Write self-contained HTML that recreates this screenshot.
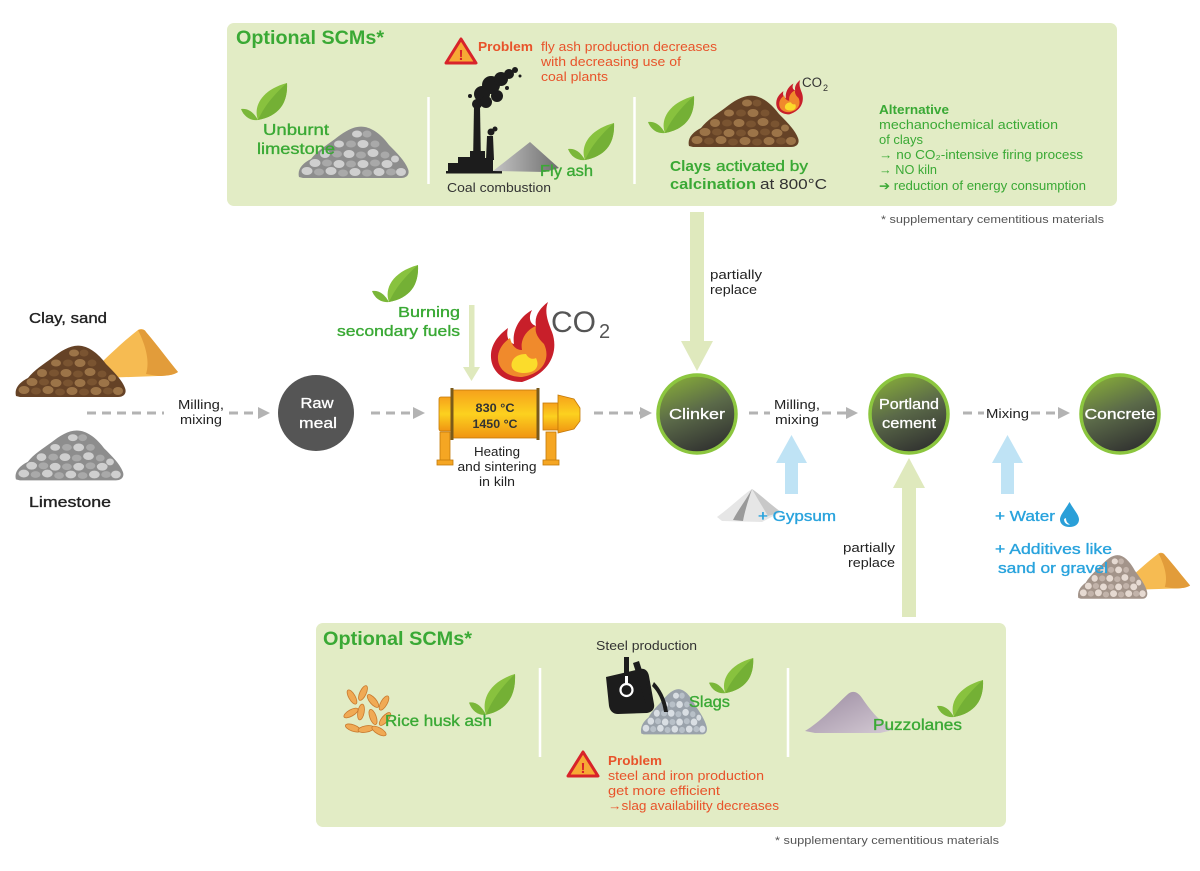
<!DOCTYPE html>
<html>
<head>
<meta charset="utf-8">
<style>
  html,body{margin:0;padding:0;background:#fff;}
  svg{display:block;}
  .g{fill:#3aa935;}
  .gs{fill:#3aa935;stroke:#3aa935;stroke-width:0.35;}
  .r{fill:#e8532a;}
  .b{fill:#29a3dd;stroke:#29a3dd;stroke-width:0.35;}
  .k{fill:#222;}
  .ks{fill:#222;stroke:#222;stroke-width:0.35;}
  .d{fill:#333;}
  .w{fill:#fff;stroke:#fff;stroke-width:0.3;}
  .fn{fill:#555;}
</style>
</head>
<body>
<svg width="1200" height="871" viewBox="0 0 1200 871" xmlns="http://www.w3.org/2000/svg" font-family="'Liberation Sans', Arial, sans-serif">
<defs>
  <linearGradient id="cg" x1="0.3" y1="0" x2="0.7" y2="1">
    <stop offset="0" stop-color="#84a83a"/>
    <stop offset="0.45" stop-color="#5b6a49"/>
    <stop offset="1" stop-color="#2f2f2f"/>
  </linearGradient>
  <linearGradient id="kg" x1="0" y1="0" x2="0" y2="1">
    <stop offset="0" stop-color="#f6a11b"/>
    <stop offset="0.5" stop-color="#fcd11f"/>
    <stop offset="1" stop-color="#f09412"/>
  </linearGradient>
  <linearGradient id="fa" x1="0" y1="0" x2="1" y2="0">
    <stop offset="0" stop-color="#c4c4c4"/>
    <stop offset="1" stop-color="#6e6e6e"/>
  </linearGradient>
  <linearGradient id="pz" x1="0" y1="0" x2="1" y2="1">
    <stop offset="0" stop-color="#9a8aa0"/>
    <stop offset="1" stop-color="#d4cad4"/>
  </linearGradient>
  <g id="leaf">
    <path d="M17,37 C12,24 20,7 46,0 C47,20 38,33 17,37 Z" fill="#88c23e"/>
    <path d="M17,37 C22,26 30,14 46,0 C47,20 38,33 17,37 Z" fill="#74b035"/>
    <path d="M17,37 C12,28 6,25 0,26 C3,34 10,38 17,37 Z" fill="#7ab739"/>
  </g>
  <g id="pile">
    <path d="M2,54 C0,46 6,40 14,36 C20,28 30,22 38,16 C48,8 58,2 68,4 C78,6 86,14 92,22 C100,30 108,38 111,46 C113,51 110,55 104,55 L6,55 Z" style="fill:var(--b,#888)"/>
    <g style="fill:var(--d,#ccc)">
      <ellipse cx="10" cy="48" rx="5.5" ry="4"/>
      <ellipse cx="34" cy="48" rx="5.5" ry="4"/>
      <ellipse cx="58" cy="49" rx="5.5" ry="4"/>
      <ellipse cx="82" cy="49" rx="5.5" ry="4"/>
      <ellipse cx="104" cy="49" rx="5" ry="4"/>
      <ellipse cx="18" cy="40" rx="5.5" ry="4"/>
      <ellipse cx="42" cy="41" rx="5.5" ry="4"/>
      <ellipse cx="66" cy="41" rx="5.5" ry="4"/>
      <ellipse cx="90" cy="41" rx="5.5" ry="4"/>
      <ellipse cx="28" cy="31" rx="5" ry="4"/>
      <ellipse cx="52" cy="31" rx="5.5" ry="4"/>
      <ellipse cx="76" cy="30" rx="5.5" ry="4"/>
      <ellipse cx="42" cy="21" rx="5" ry="3.5"/>
      <ellipse cx="66" cy="21" rx="5.5" ry="4"/>
      <ellipse cx="60" cy="11" rx="5" ry="3.5"/>
      <ellipse cx="98" cy="36" rx="4" ry="3.5"/>
    </g>
    <g style="fill:var(--k,#666)">
      <ellipse cx="22" cy="49" rx="5" ry="3.5"/>
      <ellipse cx="46" cy="50" rx="5" ry="3.5"/>
      <ellipse cx="70" cy="50" rx="5" ry="3.5"/>
      <ellipse cx="94" cy="49" rx="5" ry="3.5"/>
      <ellipse cx="30" cy="40" rx="5" ry="3.5"/>
      <ellipse cx="54" cy="41" rx="5" ry="3.5"/>
      <ellipse cx="78" cy="40" rx="5" ry="3.5"/>
      <ellipse cx="40" cy="31" rx="5" ry="3.5"/>
      <ellipse cx="64" cy="32" rx="5" ry="3.5"/>
      <ellipse cx="88" cy="32" rx="4.5" ry="3.5"/>
      <ellipse cx="54" cy="21" rx="5" ry="3.5"/>
      <ellipse cx="78" cy="21" rx="4.5" ry="3.5"/>
      <ellipse cx="70" cy="11" rx="4.5" ry="3.5"/>
    </g>
  </g>
  <g id="sand">
    <path d="M0,48 C12,36 32,16 50,2 C53,0 56,1 58,4 C70,18 80,32 90,44 C86,47 78,48 70,48 L12,50 Z" fill="#f6bb52"/>
    <path d="M50,2 C56,1 57,2 58,4 C70,18 80,32 90,44 C86,47 78,48 70,48 L58,46 C62,34 58,18 50,2 Z" fill="#e29c3a"/>
  </g>
  <g id="flame">
    <path d="M34,80 C14,80 2,68 3,52 C4,40 12,32 20,26 C18,34 20,40 26,42 C24,30 30,16 44,8 C40,16 42,22 48,24 C46,14 52,6 60,0 C56,10 60,20 64,30 C70,46 66,70 34,80 Z" fill="#c81f2a"/>
    <path d="M34,75 C18,75 9,66 10,54 C11,46 16,40 22,36 C24,44 28,48 34,48 C32,38 38,28 48,24 C46,32 52,38 56,42 C62,54 58,71 34,75 Z" fill="#f08a2c"/>
    <path d="M36,71 C26,71 22,66 24,60 C26,54 32,52 38,52 C40,56 44,58 48,56 C52,64 48,71 36,71 Z" fill="#fbdc2b"/>
  </g>
</defs>

<!-- ============ TOP BOX ============ -->
<rect x="227" y="23" width="890" height="183" rx="7" fill="#e2ecc5"/>
<text x="236" y="44" class="g" font-weight="bold" font-size="19" textLength="148" lengthAdjust="spacingAndGlyphs">Optional SCMs*</text>

<!-- warning -->
<path d="M461,39 L476,63 L446,63 Z" fill="#f7a935" stroke="#d8232a" stroke-width="3" stroke-linejoin="round"/>
<text x="461" y="60" text-anchor="middle" font-size="15" font-weight="bold" fill="#d8232a">!</text>
<text x="478" y="51" class="r" font-weight="bold" font-size="12.5" textLength="55" lengthAdjust="spacingAndGlyphs">Problem</text>
<text x="541" y="51" class="r" font-size="12.5" textLength="176" lengthAdjust="spacingAndGlyphs">fly ash production decreases</text>
<text x="541" y="66" class="r" font-size="12.5" textLength="140" lengthAdjust="spacingAndGlyphs">with decreasing use of</text>
<text x="541" y="81" class="r" font-size="12.5" textLength="67" lengthAdjust="spacingAndGlyphs">coal plants</text>

<!-- unburnt limestone -->
<use href="#leaf" transform="translate(241,83)"/>
<use href="#pile" transform="translate(297,123)" style="--b:#8d8d8d;--d:#cfcfcf;--k:#a9a9a9"/>
<text x="263" y="135" class="gs" font-size="15.5" textLength="66" lengthAdjust="spacingAndGlyphs">Unburnt</text>
<text x="257" y="154" class="gs" font-size="15.5" textLength="78" lengthAdjust="spacingAndGlyphs">limestone</text>

<line x1="428.5" y1="97" x2="428.5" y2="184" stroke="#fff" stroke-width="2.5"/>
<line x1="634.5" y1="97" x2="634.5" y2="184" stroke="#fff" stroke-width="2.5"/>

<!-- coal plant -->
<g fill="#1c1c1c">
  <circle cx="482" cy="94" r="8"/>
  <circle cx="491" cy="85" r="9"/>
  <circle cx="501" cy="79" r="7"/>
  <circle cx="509" cy="74" r="5"/>
  <circle cx="486" cy="102" r="6"/>
  <circle cx="497" cy="96" r="6"/>
  <circle cx="477" cy="104" r="5"/>
  <circle cx="515" cy="70" r="3"/>
  <circle cx="520" cy="76" r="1.5"/>
  <circle cx="507" cy="88" r="2"/>
  <circle cx="470" cy="96" r="2"/>
  <polygon points="474,106 480,106 481,164 473,164"/>
  <polygon points="487,136 493,136 494,160 486,160"/>
  <circle cx="491" cy="132" r="3.5"/>
  <circle cx="495" cy="129" r="2.5"/>
  <path d="M448,173 L448,163 L458,163 L458,157 L470,157 L470,151 L485,151 L485,158 L493,158 L493,173 Z"/>
  <rect x="446" y="171" width="56" height="2.5"/>
</g>
<path d="M493,171 L530,142 L559,168 L545,172 Z" fill="url(#fa)"/>
<use href="#leaf" transform="translate(568,123)"/>
<text x="540" y="176" class="gs" font-size="15.5" textLength="53" lengthAdjust="spacingAndGlyphs">Fly ash</text>
<text x="447" y="192" class="d" font-size="12.5" textLength="104" lengthAdjust="spacingAndGlyphs">Coal combustion</text>

<!-- clays -->
<use href="#leaf" transform="translate(648,96)"/>
<use href="#pile" transform="translate(687,92)" style="--b:#654226;--d:#9c7448;--k:#7a5431"/>
<use href="#flame" transform="translate(775,80) scale(0.42,0.43)"/>
<text x="802" y="87" class="d" font-size="13.5" textLength="20" lengthAdjust="spacingAndGlyphs">CO</text>
<text x="823" y="91" class="d" font-size="9">2</text>
<text x="670" y="171" class="g" font-weight="bold" font-size="15" textLength="41" lengthAdjust="spacingAndGlyphs">Clays</text>
<text x="716" y="171" class="gs" font-size="15" textLength="92" lengthAdjust="spacingAndGlyphs">activated by</text>
<text x="670" y="189" class="g" font-weight="bold" font-size="15" textLength="86" lengthAdjust="spacingAndGlyphs">calcination</text>
<text x="760" y="189" class="d" font-size="15" textLength="67" lengthAdjust="spacingAndGlyphs">at 800°C</text>

<!-- alternative -->
<text x="879" y="114" class="g" font-weight="bold" font-size="12.5" textLength="70" lengthAdjust="spacingAndGlyphs">Alternative</text>
<text x="879" y="129" class="g" font-size="12.5" textLength="179" lengthAdjust="spacingAndGlyphs">mechanochemical activation</text>
<text x="879" y="144" class="g" font-size="12.5" textLength="44" lengthAdjust="spacingAndGlyphs">of clays</text>
<text x="879" y="159" class="g" font-size="12.5" textLength="204" lengthAdjust="spacingAndGlyphs">→ no CO₂-intensive firing process</text>
<text x="879" y="174" class="g" font-size="12.5" textLength="58" lengthAdjust="spacingAndGlyphs">→ NO kiln</text>
<text x="879" y="190" class="g" font-size="12.5" textLength="207" lengthAdjust="spacingAndGlyphs">➔ reduction of energy consumption</text>

<text x="881" y="223" class="fn" font-size="11" textLength="223" lengthAdjust="spacingAndGlyphs">* supplementary cementitious materials</text>

<!-- ============ GREEN ARROWS ============ -->
<polygon points="690,212 704,212 704,341 713,341 697,371 681,341 690,341" fill="#dfe9bd"/>
<text x="710" y="279" class="k" font-size="12.5" textLength="52" lengthAdjust="spacingAndGlyphs">partially</text>
<text x="710" y="294" class="k" font-size="12.5" textLength="47" lengthAdjust="spacingAndGlyphs">replace</text>

<polygon points="902,617 916,617 916,488 925,488 909,458 893,488 902,488" fill="#dfe9bd"/>
<text x="895" y="552" text-anchor="end" class="k" font-size="12.5" textLength="52" lengthAdjust="spacingAndGlyphs">partially</text>
<text x="895" y="567" text-anchor="end" class="k" font-size="12.5" textLength="47" lengthAdjust="spacingAndGlyphs">replace</text>

<!-- ============ LEFT MATERIALS ============ -->
<text x="29" y="323" class="ks" font-size="15" textLength="78" lengthAdjust="spacingAndGlyphs">Clay, sand</text>
<use href="#sand" transform="translate(88,328)"/>
<use href="#pile" transform="translate(14,342)" style="--b:#654226;--d:#9c7448;--k:#7a5431"/>
<use href="#pile" transform="translate(14,427) scale(0.98,0.97)" style="--b:#8d8d8d;--d:#cfcfcf;--k:#a9a9a9"/>
<text x="29" y="507" class="ks" font-size="15" textLength="82" lengthAdjust="spacingAndGlyphs">Limestone</text>

<!-- ============ DASHED FLOW ============ -->
<g stroke="#b3b3b3" stroke-width="3" stroke-dasharray="9 6" fill="none">
  <line x1="87" y1="413" x2="164" y2="413"/>
  <line x1="229" y1="413" x2="259" y2="413"/>
  <line x1="371" y1="413" x2="414" y2="413"/>
  <line x1="594" y1="413" x2="641" y2="413"/>
  <line x1="749" y1="413" x2="770" y2="413"/>
  <line x1="822" y1="413" x2="847" y2="413"/>
  <line x1="963" y1="413" x2="984" y2="413"/>
  <line x1="1031" y1="413" x2="1059" y2="413"/>
</g>
<g fill="#b3b3b3">
  <polygon points="258,407 270,413 258,419"/>
  <polygon points="413,407 425,413 413,419"/>
  <polygon points="640,407 652,413 640,419"/>
  <polygon points="846,407 858,413 846,419"/>
  <polygon points="1058,407 1070,413 1058,419"/>
</g>
<text x="178" y="409" class="k" font-size="12.5" textLength="46" lengthAdjust="spacingAndGlyphs">Milling,</text>
<text x="180" y="424" class="k" font-size="12.5" textLength="42" lengthAdjust="spacingAndGlyphs">mixing</text>

<!-- raw meal -->
<circle cx="316" cy="413" r="38" fill="#555"/>
<text x="317" y="408" text-anchor="middle" class="w" font-size="14.5" textLength="33" lengthAdjust="spacingAndGlyphs">Raw</text>
<text x="318" y="428" text-anchor="middle" class="w" font-size="14.5" textLength="38" lengthAdjust="spacingAndGlyphs">meal</text>

<!-- burning secondary fuels -->
<use href="#leaf" transform="translate(372,265)"/>
<text x="460" y="317" text-anchor="end" class="gs" font-size="15" textLength="62" lengthAdjust="spacingAndGlyphs">Burning</text>
<text x="460" y="336" text-anchor="end" class="gs" font-size="15" textLength="123" lengthAdjust="spacingAndGlyphs">secondary fuels</text>
<rect x="469" y="305" width="5.5" height="63" fill="#dfe9bd"/>
<polygon points="463,367 480,367 471.5,381" fill="#dfe9bd"/>

<!-- flame + CO2 -->
<use href="#flame" transform="translate(488,302)"/>
<text x="551" y="332" font-size="30" fill="#555" textLength="45" lengthAdjust="spacingAndGlyphs">CO</text>
<text x="599" y="338" font-size="20" fill="#555">2</text>

<!-- kiln -->
<g>
  <rect x="440" y="432" width="10" height="30" fill="#f5a623" stroke="#c47a0a" stroke-width="0.8"/>
  <rect x="437" y="460" width="16" height="5" fill="#f5a623" stroke="#c47a0a" stroke-width="0.8"/>
  <rect x="546" y="432" width="10" height="30" fill="#f5a623" stroke="#c47a0a" stroke-width="0.8"/>
  <rect x="543" y="460" width="16" height="5" fill="#f5a623" stroke="#c47a0a" stroke-width="0.8"/>
  <rect x="439" y="397" width="13" height="34" rx="2" fill="url(#kg)" stroke="#c47a0a" stroke-width="0.8"/>
  <rect x="452" y="390" width="86" height="48" fill="url(#kg)" stroke="#c47a0a" stroke-width="0.8"/>
  <rect x="450.5" y="388" width="3" height="52" fill="#7a5a1a"/>
  <rect x="536.5" y="388" width="3" height="52" fill="#7a5a1a"/>
  <rect x="543" y="403" width="15" height="27" fill="url(#kg)" stroke="#c47a0a" stroke-width="0.8"/>
  <polygon points="558,395 574,399 580,408 580,421 574,429 558,433" fill="url(#kg)" stroke="#c47a0a" stroke-width="0.8"/>
</g>
<text x="495" y="412" text-anchor="middle" class="d" font-weight="bold" font-size="12" textLength="39" lengthAdjust="spacingAndGlyphs">830 °C</text>
<text x="495" y="428" text-anchor="middle" class="d" font-weight="bold" font-size="12" textLength="45" lengthAdjust="spacingAndGlyphs">1450 °C</text>
<text x="497" y="456" text-anchor="middle" class="k" font-size="12.5" textLength="46" lengthAdjust="spacingAndGlyphs">Heating</text>
<text x="497" y="471" text-anchor="middle" class="k" font-size="12.5" textLength="79" lengthAdjust="spacingAndGlyphs">and sintering</text>
<text x="497" y="486" text-anchor="middle" class="k" font-size="12.5" textLength="36" lengthAdjust="spacingAndGlyphs">in kiln</text>

<!-- circles -->
<circle cx="697" cy="414" r="39" fill="url(#cg)" stroke="#8cc63f" stroke-width="3.5"/>
<text x="697" y="419" text-anchor="middle" class="w" font-size="15" textLength="56" lengthAdjust="spacingAndGlyphs">Clinker</text>

<text x="774" y="409" class="k" font-size="12.5" textLength="46" lengthAdjust="spacingAndGlyphs">Milling,</text>
<text x="775" y="424" class="k" font-size="12.5" textLength="44" lengthAdjust="spacingAndGlyphs">mixing</text>

<circle cx="909" cy="414" r="39" fill="url(#cg)" stroke="#8cc63f" stroke-width="3.5"/>
<text x="909" y="409" text-anchor="middle" class="w" font-size="15" textLength="60" lengthAdjust="spacingAndGlyphs">Portland</text>
<text x="909" y="428" text-anchor="middle" class="w" font-size="15" textLength="54" lengthAdjust="spacingAndGlyphs">cement</text>

<text x="986" y="418" class="k" font-size="12.5" textLength="43" lengthAdjust="spacingAndGlyphs">Mixing</text>

<circle cx="1120" cy="414" r="39" fill="url(#cg)" stroke="#8cc63f" stroke-width="3.5"/>
<text x="1120" y="419" text-anchor="middle" class="w" font-size="15" textLength="71" lengthAdjust="spacingAndGlyphs">Concrete</text>

<!-- blue arrows -->
<polygon points="785,494 798,494 798,463 807,463 791.5,435 776,463 785,463" fill="#bfe3f5"/>
<polygon points="1001,494 1014,494 1014,463 1023,463 1007.5,435 992,463 1001,463" fill="#bfe3f5"/>

<!-- gypsum -->
<path d="M717,517 C732,506 744,494 752,489 C762,496 771,505 781,512 L762,522 L722,521 Z" fill="#e6e6e6"/>
<path d="M752,489 C746,500 738,510 733,520 L743,521 C745,510 749,498 752,489 Z" fill="#9a9a9a"/>
<path d="M752,489 C762,496 771,505 781,512 L768,516 C762,506 756,496 752,489 Z" fill="#c8c8c8"/>
<text x="758" y="521" class="b" font-size="15" textLength="78" lengthAdjust="spacingAndGlyphs">+ Gypsum</text>

<!-- water -->
<text x="995" y="521" class="b" font-size="15" textLength="60" lengthAdjust="spacingAndGlyphs">+ Water</text>
<path d="M1069.5,502 C1065,510 1060,515 1060,519.5 C1060,524 1064,527 1069.5,527 C1075,527 1079,524 1079,519.5 C1079,515 1074,510 1069.5,502 Z" fill="#2a9fd8"/>
<path d="M1064,519 C1064,523 1067,525 1070,524.5 C1067,523 1066,521 1066,518 Z" fill="#fff"/>
<use href="#sand" transform="translate(1119,552) scale(0.79,0.76)"/>
<use href="#pile" transform="translate(1077,552) scale(0.63,0.85)" style="--b:#a3948a;--d:#e6dad2;--k:#c2b3aa"/>
<text x="995" y="554" class="b" font-size="15" textLength="117" lengthAdjust="spacingAndGlyphs">+ Additives like</text>
<text x="998" y="573" class="b" font-size="15" textLength="110" lengthAdjust="spacingAndGlyphs">sand or gravel</text>

<!-- ============ BOTTOM BOX ============ -->
<rect x="316" y="623" width="690" height="204" rx="7" fill="#e2ecc5"/>
<text x="323" y="645" class="g" font-weight="bold" font-size="19" textLength="149" lengthAdjust="spacingAndGlyphs">Optional SCMs*</text>
<text x="596" y="650" class="d" font-size="12.5" textLength="101" lengthAdjust="spacingAndGlyphs">Steel production</text>

<line x1="540" y1="668" x2="540" y2="757" stroke="#fff" stroke-width="2.5"/>
<line x1="788" y1="668" x2="788" y2="757" stroke="#fff" stroke-width="2.5"/>

<!-- rice -->
<g fill="#f0aa55" stroke="#c9792d" stroke-width="0.8">
  <ellipse cx="352" cy="697" rx="3.2" ry="8" transform="rotate(-30 352 697)"/>
  <ellipse cx="363" cy="693" rx="3.2" ry="8" transform="rotate(25 363 693)"/>
  <ellipse cx="373" cy="701" rx="3.2" ry="8" transform="rotate(-40 373 701)"/>
  <ellipse cx="384" cy="703" rx="3.2" ry="8" transform="rotate(30 384 703)"/>
  <ellipse cx="351" cy="713" rx="3.2" ry="8" transform="rotate(60 351 713)"/>
  <ellipse cx="361" cy="712" rx="3.2" ry="8" transform="rotate(10 361 712)"/>
  <ellipse cx="373" cy="717" rx="3.2" ry="8" transform="rotate(-20 373 717)"/>
  <ellipse cx="385" cy="719" rx="3.2" ry="8" transform="rotate(40 385 719)"/>
  <ellipse cx="353" cy="728" rx="3.2" ry="8" transform="rotate(-70 353 728)"/>
  <ellipse cx="366" cy="729" rx="3.2" ry="8" transform="rotate(80 366 729)"/>
  <ellipse cx="379" cy="731" rx="3.2" ry="8" transform="rotate(-60 379 731)"/>
</g>
<use href="#leaf" transform="translate(469,674) scale(1,1.1)"/>
<text x="385" y="726" class="gs" font-size="15.5" textLength="107" lengthAdjust="spacingAndGlyphs">Rice husk ash</text>

<!-- slags -->
<use href="#pile" transform="translate(640,686) scale(0.6,0.88)" style="--b:#9aa2ab;--d:#d9dee3;--k:#b8c0c8"/>
<g fill="#1c1c1c">
  <path d="M606,677 L640,669 C645,668 648,671 649,676 L654,704 C655,709 652,712 647,713 L618,714 C613,714 610,711 609,706 Z"/>
  <rect x="624" y="657" width="5" height="28"/>
  <polygon points="633,663 639,661 652,702 646,704"/>
  <path d="M652,686 C658,692 662,700 664,712 L668,712 C666,698 660,688 654,682 Z"/>
</g>
<circle cx="626.5" cy="690" r="6" fill="none" stroke="#fff" stroke-width="2.2"/>
<rect x="625" y="676" width="3" height="9" fill="#fff"/>
<use href="#leaf" transform="translate(709,658) scale(0.96,0.95)"/>
<text x="689" y="707" class="gs" font-size="15.5" textLength="41" lengthAdjust="spacingAndGlyphs">Slags</text>

<!-- problem -->
<path d="M583,752 L598,776 L568,776 Z" fill="#f7a935" stroke="#d8232a" stroke-width="3" stroke-linejoin="round"/>
<text x="583" y="773" text-anchor="middle" font-size="15" font-weight="bold" fill="#d8232a">!</text>
<text x="608" y="765" class="r" font-weight="bold" font-size="12.5" textLength="54" lengthAdjust="spacingAndGlyphs">Problem</text>
<text x="608" y="780" class="r" font-size="12.5" textLength="156" lengthAdjust="spacingAndGlyphs">steel and iron production</text>
<text x="608" y="795" class="r" font-size="12.5" textLength="112" lengthAdjust="spacingAndGlyphs">get more efficient</text>
<text x="608" y="810" class="r" font-size="12.5" textLength="171" lengthAdjust="spacingAndGlyphs">→slag availability decreases</text>

<!-- puzzolanes -->
<path d="M805,731 C820,722 835,706 848,694 C853,690 858,692 862,698 C870,710 880,722 893,730 L880,733 L815,733 Z" fill="url(#pz)"/>
<use href="#leaf" transform="translate(937,680)"/>
<text x="873" y="730" class="gs" font-size="15.5" textLength="89" lengthAdjust="spacingAndGlyphs">Puzzolanes</text>

<text x="775" y="844" class="fn" font-size="11" textLength="224" lengthAdjust="spacingAndGlyphs">* supplementary cementitious materials</text>
</svg>
</body>
</html>
